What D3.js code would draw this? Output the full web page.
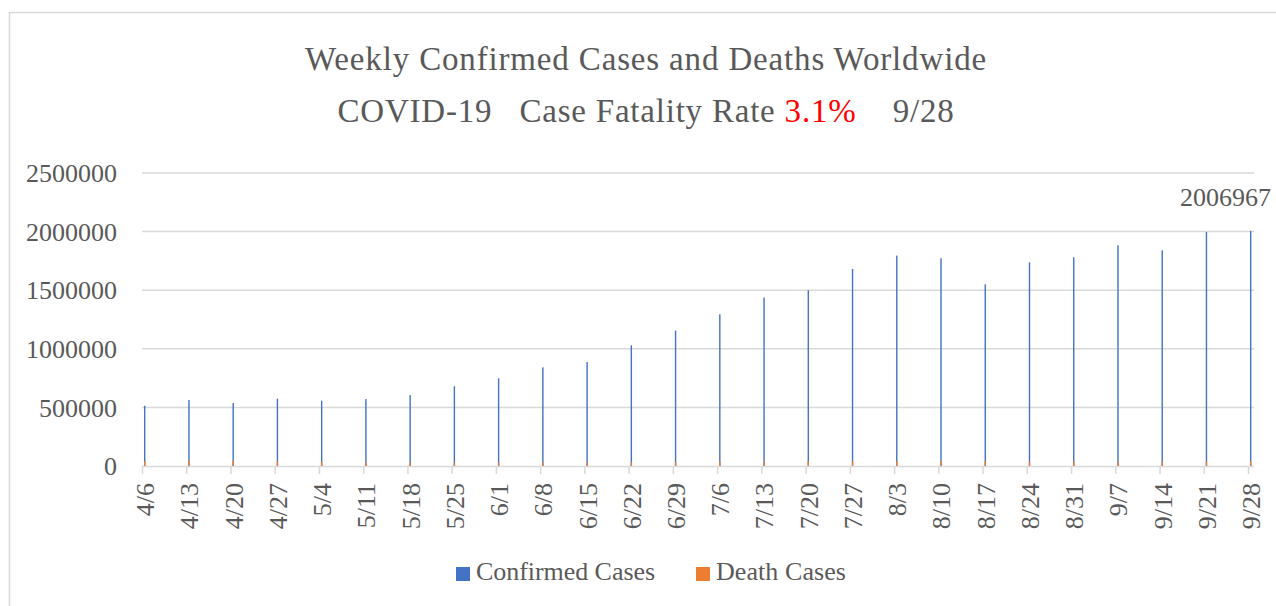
<!DOCTYPE html>
<html>
<head>
<meta charset="utf-8">
<script src="https://cdn.jsdelivr.net/npm/d3@7"></script>
<style>
  body { margin: 0; background: #fff; }
  svg { display: block; font-family: "Liberation Serif", "DejaVu Serif", serif; }
  text { fill: #595959; }
</style>
</head>
<body>
<svg id="chart" width="1276" height="606"></svg>
<script>
// weekly figures
let weeks = ['4/6','4/13','4/20','4/27','5/4','5/11','5/18','5/25','6/1','6/8','6/15','6/22','6/29',
             '7/6','7/13','7/20','7/27','8/3','8/10','8/17','8/24','8/31','9/7','9/14','9/21','9/28']

let confirmed = [514000, 563000, 537000, 574000, 557000, 571000, 605000, 680000, 748000, 842000, 887000, 1030000, 1155000,
                 1294000, 1437000, 1499000, 1681000, 1795000, 1772000, 1550000, 1738000, 1781000, 1883000, 1840000, 1997000, 2006967]

let deaths = [42000, 48000, 46000, 40000, 36000, 32000, 30000, 28000, 29000, 30000, 31000, 32000, 33000,
              35000, 37000, 39000, 41000, 42000, 41000, 38000, 38000, 38000, 36000, 36000, 37000, 37000]

let yTicks = [0, 500000, 1000000, 1500000, 2000000, 2500000]

let seriesNames = ['Confirmed Cases', 'Death Cases']
let seriesColors = ['#4472C4', '#ED7D31']

let svg = d3.select('#chart')

// fit a text to a given width by spreading the letters
function fitText(t, width){
	let w = t.node().getComputedTextLength()
	let n = t.text().length
	t.style('letter-spacing', `${(width - w) / n}px`)
}

// chart frame
svg.append('rect')
	.attr('x', 9.5).attr('y', 12.5)
	.attr('width', 1300).attr('height', 700)
	.attr('fill', 'none')
	.attr('stroke', '#d9d9d9')
	.attr('stroke-width', 1.5)

let xScale = d3.scalePoint()
	.domain(weeks)
	.range([142, 1248])

let yScale = d3.scaleLinear()
	.domain([0, 2500000])
	.range([466, 173])

// gridlines
svg.append('g').selectAll('line').data(yTicks.slice(1)).enter().append('line')
	.attr('x1', 142).attr('x2', 1254)
	.attr('y1', d => yScale(d)).attr('y2', d => yScale(d))
	.attr('stroke', '#d9d9d9')
	.attr('stroke-width', 1.5)

// y labels
svg.append('g').selectAll('text').data(yTicks).enter().append('text')
	.attr('x', 117)
	.attr('y', d => yScale(d))
	.attr('dy', '0.35em')
	.attr('text-anchor', 'end')
	.style('font-size', '26px')
	.text(d => d)

// x axis
let axisX = d3.axisBottom(xScale).tickSize(8).tickFormat('')
let gx = svg.append('g')
	.attr('transform', `translate(0, ${yScale(0)})`)
	.call(axisX)
gx.select('.domain').attr('stroke', '#d9d9d9').attr('stroke-width', 1.5).attr('d', 'M142,0.5H1254')
gx.selectAll('.tick line').attr('stroke', '#d9d9d9').attr('stroke-width', 1.5)

svg.append('g').selectAll('text').data(weeks).enter().append('text')
	.attr('transform', d => `translate(${xScale(d) + 3}, 483) rotate(-90)`)
	.attr('text-anchor', 'end')
	.attr('dy', '0.35em')
	.style('font-size', '26px')
	.text(d => d)

// bars
svg.append('g').selectAll('rect').data(confirmed).enter().append('rect')
	.attr('x', (d, i) => xScale(weeks[i]) + 2)
	.attr('width', 1.4)
	.attr('y', d => yScale(d))
	.attr('height', d => yScale(0) - yScale(d))
	.attr('fill', seriesColors[0])

svg.append('g').selectAll('rect').data(deaths).enter().append('rect')
	.attr('x', (d, i) => xScale(weeks[i]) + 2)
	.attr('width', 1.4)
	.attr('y', d => yScale(d))
	.attr('height', d => yScale(0) - yScale(d))
	.attr('fill', seriesColors[1])

// label of the last week
let last = weeks.length - 1
svg.append('text')
	.attr('x', xScale(weeks[last]) + 23)
	.attr('y', yScale(confirmed[last]) - 25)
	.attr('text-anchor', 'end')
	.style('font-size', '26px')
	.text(confirmed[last])

// title
let t1 = svg.append('text')
	.attr('x', 646).attr('y', 70)
	.attr('text-anchor', 'middle')
	.style('font-size', '33px')
	.text('Weekly Confirmed Cases and Deaths Worldwide')
fitText(t1, 682)

let t2 = svg.append('text')
	.attr('x', 646).attr('y', 122)
	.attr('text-anchor', 'middle')
	.style('font-size', '33px')
	.style('white-space', 'pre')
t2.append('tspan').text('COVID-19   Case Fatality Rate ')
t2.append('tspan').style('fill', '#FF0000').text('3.1%')
t2.append('tspan').text('    9/28')
fitText(t2, 617)

// legend
let legX = [456, 696]
let leg = svg.append('g').selectAll('g').data(seriesNames).enter().append('g')
	.attr('transform', (d, i) => `translate(${legX[i]}, 567)`)
leg.append('rect')
	.attr('width', 14).attr('height', 14)
	.attr('fill', (d, i) => seriesColors[i])
leg.append('text')
	.attr('x', 20).attr('y', 13)
	.style('font-size', '26px')
	.text(d => d)
	.each(function(d, i){ fitText(d3.select(this), i == 0 ? 179 : 130) })
</script>
</body>
</html>
